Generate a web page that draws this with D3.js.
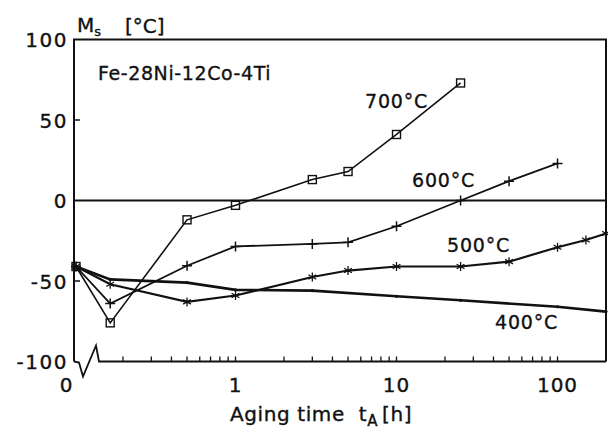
<!DOCTYPE html>
<html><head><meta charset="utf-8">
<script src="https://cdn.jsdelivr.net/npm/d3@7"></script>
<style>
body{margin:0;background:#fff;}
svg{display:block;}
text{font-family:"DejaVu Sans",sans-serif;fill:#111;stroke:#111;stroke-width:0.35px;white-space:pre;}
</style></head>
<body><svg id="c" width="608" height="430"></svg>
<script>
// ---- data (aging time in hours, Ms in °C) ----
const t700 = [0, 1/6, 0.5, 1, 3, 5, 10, 25];
const m700 = [-41, -76, -12, -3, 13, 18, 41, 73];
const t600 = [0, 1/6, 0.5, 1, 3, 5, 10, 25, 50, 100];
const m600 = [-41, -64, -40.5, -28.5, -27, -26, -16, 0, 12, 23];
const t500 = [0, 1/6, 0.5, 1, 3, 5, 10, 25, 50, 100, 150, 200];
const m500 = [-41, -52, -63, -59, -47.5, -43.5, -41, -41, -38, -29, -24.5, -20.5];
const t400 = [0, 1/6, 0.5, 1, 3, 10, 25, 100, 200];
const m400 = [-41, -49, -51, -55.5, -56, -59.5, -62, -66, -69];
const seriesNames = ["700°C", "600°C", "500°C", "400°C"];
const yTicks = [-100, -50, 0, 50, 100];
const yTickLabels = ["-100", "-50", "0", "50", "100"];
const xMajor = [1, 10, 100];
const xMajorLabels = ["1", "10", "100"];
const alloy = "Fe-28Ni-12Co-4Ti";

(function(){
const svg = d3.select("#c");
const pL = 74, pR = 606, pT = 39.5, pB = 361.5;
const y = d3.scaleLinear().domain([-100, 100]).range([pB, pT]);
const xl = d3.scaleLog().domain([1, 200]).range([235.5, pR]);
const xZero = 76;
const x = t => t === 0 ? xZero : xl(t);

const g = svg.append("g");
// frame
g.append("path").attr("d", `M${pL},${pB}V${pT}H${pR}V${pB}`)
  .attr("fill","none").attr("stroke","#111").attr("stroke-width",2);
// x axis with break
const axStart = 99;
g.append("path").attr("d", `M${pL},${pB}L${pL+5},${pB+1}L${pL+9},${pB+15}L${pL+22},${pB-16}L${axStart},${pB}H${pR}`)
  .attr("fill","none").attr("stroke","#111").attr("stroke-width",1.8);
// zero line
g.append("line").attr("x1",pL).attr("x2",pR).attr("y1",y(0)).attr("y2",y(0))
  .attr("stroke","#111").attr("stroke-width",1.8);
// y ticks inward
[-50, 50].forEach(v => g.append("line").attr("x1",pL).attr("x2",pL+6)
  .attr("y1",y(v)).attr("y2",y(v)).attr("stroke","#111").attr("stroke-width",1.5));
// x ticks (log minor + major)
const xt = [];
[0.1, 1, 10, 100].forEach(d => { for (let k = 1; k <= 9; k++) { const v = d*k; if (v >= 0.2 && v <= 100) xt.push(v); } });
xt.forEach(v => g.append("line").attr("x1",xl(v)).attr("x2",xl(v))
  .attr("y1",pB).attr("y2",pB-5).attr("stroke","#111").attr("stroke-width",1.3));

// y tick labels
yTicks.forEach((v,i) => g.append("text").attr("x",68).attr("y",y(v)+7.5)
  .attr("text-anchor","end").attr("font-size",20).attr("letter-spacing",1.5).text(yTickLabels[i]));
// x tick labels
g.append("text").attr("x",xZero-10).attr("y",392).attr("text-anchor","middle").attr("font-size",20).text("0");
xMajor.forEach((v,i) => g.append("text").attr("x",xl(v)).attr("y",392)
  .attr("text-anchor","middle").attr("font-size",20).attr("letter-spacing",1).text(xMajorLabels[i]));

// axis titles
const yt = g.append("text").attr("x",77).attr("y",32).attr("font-size",20);
yt.append("tspan").text("M");
yt.append("tspan").attr("font-size",13).attr("dy",4).text("s");
yt.append("tspan").attr("x",125).attr("dy",-3).text("[°C]");
const xtt = g.append("text").attr("x",230).attr("y",421).attr("font-size",20).attr("letter-spacing",0.6);
xtt.append("tspan").text("Aging time  t");
xtt.append("tspan").attr("font-size",15).attr("dy",5).text("A");
xtt.append("tspan").attr("dy",-5).attr("dx",4).text("[h]");
g.append("text").attr("x",98).attr("y",80).attr("font-size",19).attr("letter-spacing",0.6).text(alloy);

// series
const line = d3.line().x(d => x(d[0])).y(d => y(d[1]));
const S = [
  {t:t700, m:m700, w:1.6, mark:"sq"},
  {t:t600, m:m600, w:1.8, mark:"plus"},
  {t:t500, m:m500, w:2.2, mark:"ast"},
  {t:t400, m:m400, w:2.6, mark:"dot"}
];
S.forEach(s => {
  const pts = s.t.map((t,i) => [t, s.m[i]]);
  g.append("path").attr("d", line(pts)).attr("fill","none").attr("stroke","#111").attr("stroke-width",s.w);
  pts.forEach(p => {
    const cx = x(p[0]), cy = y(p[1]);
    if (s.mark === "sq") g.append("rect").attr("x",cx-4).attr("y",cy-4).attr("width",8).attr("height",8)
      .attr("fill","none").attr("stroke","#111").attr("stroke-width",1.4);
    else if (s.mark === "plus") g.append("path").attr("d",`M${cx-5},${cy}H${cx+5}M${cx},${cy-5}V${cy+5}`)
      .attr("stroke","#111").attr("stroke-width",1.5);
    else if (s.mark === "ast") {
      const r = 4.5, a = r*Math.cos(Math.PI/6), b = r*Math.sin(Math.PI/6);
      g.append("path").attr("d",`M${cx},${cy-r}V${cy+r}M${cx-a},${cy-b}L${cx+a},${cy+b}M${cx-a},${cy+b}L${cx+a},${cy-b}`)
        .attr("stroke","#111").attr("stroke-width",1.3);
    } else g.append("circle").attr("cx",cx).attr("cy",cy).attr("r",1.6).attr("fill","#111");
  });
});

// series labels
const labPos = [[365,108],[412,187],[447,252],[495,329]];
seriesNames.forEach((n,i) => g.append("text").attr("x",labPos[i][0]).attr("y",labPos[i][1])
  .attr("font-size",19).attr("letter-spacing",0.8).text(n));
})();
</script></body></html>
